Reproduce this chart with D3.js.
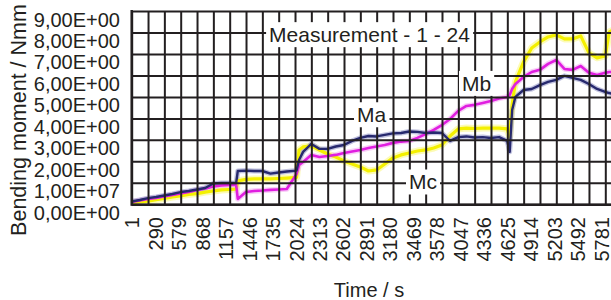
<!DOCTYPE html>
<html><head><meta charset="utf-8">
<script src="https://cdn.jsdelivr.net/npm/d3@7"></script>
<style>html,body{margin:0;padding:0;background:#fff;} svg{display:block;font-family:"Liberation Sans",Arial,Helvetica,sans-serif;}</style>
</head><body><svg id="c" width="611" height="300"></svg>
<script>
// ---- data ----
const time = [1,100,200,300,400,500,600,700,800,900,1000,1100,1200,1280,1300,1400,1500,1600,1700,1800,1900,2020,2050,2100,2200,2300,2400,2500,2600,2700,2800,2900,3000,3100,3200,3300,3400,3500,3600,3700,3800,3900,4000,4100,4200,4300,4400,4500,4600,4630,4660,4700,4800,4900,5000,5100,5200,5300,5400,5500,5600,5700,5800,5850,5900];
const ma = [0.13,0.20,0.29,0.34,0.41,0.48,0.57,0.62,0.69,0.76,0.97,0.99,0.99,0.99,1.55,1.57,1.55,1.55,1.43,1.48,1.53,1.57,2.06,2.44,2.81,2.58,2.58,2.69,2.76,2.95,3.09,3.18,3.16,3.23,3.30,3.32,3.39,3.37,3.32,3.34,3.32,2.95,3.13,3.16,3.11,3.13,3.09,3.13,2.95,2.44,4.39,5.00,5.32,5.37,5.55,5.70,5.79,5.98,5.89,5.79,5.60,5.37,5.23,5.18,5.14];
const mb = [0.11,0.18,0.25,0.29,0.36,0.43,0.50,0.57,0.67,0.74,0.83,0.88,0.90,0.90,0.25,0.57,0.62,0.64,0.67,0.69,0.71,1.41,1.83,1.97,2.30,2.20,2.25,2.30,2.39,2.46,2.53,2.62,2.69,2.76,2.86,2.92,2.95,3.09,3.27,3.46,3.69,3.97,4.35,4.58,4.63,4.72,4.81,4.93,5.00,5.09,5.37,5.60,5.93,6.16,6.26,6.54,6.72,6.30,6.26,6.44,6.12,6.02,6.12,6.16,6.16];
const mc = [0.06,0.11,0.15,0.22,0.27,0.34,0.39,0.46,0.50,0.57,0.62,0.67,0.69,0.71,1.09,1.16,1.18,1.18,1.18,1.20,1.22,1.25,2.53,2.67,2.72,2.53,2.34,2.20,2.02,1.88,1.74,1.55,1.60,1.88,2.16,2.30,2.39,2.48,2.53,2.62,2.76,3.18,3.51,3.55,3.53,3.55,3.55,3.55,3.51,3.13,4.62,5.70,6.63,7.28,7.56,7.79,7.89,7.70,7.70,7.84,7.05,6.82,6.91,8.03,8.12];
const gridTimes = [1,201,401,601,801,1001,1201,1401,1601,1801,2001,2201,2401,2601,2801,3001,3201,3401,3601,3801,4001,4201,4401,4601,4801,5001,5201,5401,5601,5801,6001];
const yTicks = [0,1,2,3,4,5,6,7,8,9];
const yTickLabels = ["0,00E+00","1,00E+07","2,00E+00","3,00E+00","4,00E+00","5,00E+00","6,00E+00","7,00E+00","8,00E+00","9,00E+00"];
const xTickValues = [1,290,579,868,1157,1446,1735,2024,2313,2602,2891,3180,3469,3758,4047,4336,4625,4914,5203,5492,5781];
const xTickLabels = ["1","290","579","868","1157","1446","1735","2024","2313","2602","2891","3180","3469","3578","4047","4336","4625","4914","5203","5492","5781"];
const seriesNames = ["Ma","Mb","Mc"];
const chartTitle = "Measurement - 1 - 24";
const xTitle = "Time / s";
const yTitle = "Bending moment / Nmm";
// annotation anchors in data units [time, value]
const annTitle = [2913, 7.55];
const annMa = [2760, 3.82];
const annMb = [4046, 5.28];
const annMc = [3397, 0.69];

// ---- chart ----
(function(){
const W = 611, H = 300;
const svg = d3.select("#c");
const x = d3.scaleLinear().domain([1, 5801]).range([131.7, 605.3]);
const xLab = d3.scaleLinear().domain([1, 5781]).range([132.3, 601.5]); // category label placement
const y = d3.scaleLinear().domain([0, 9]).range([204.3, 11]);
const pL = x(1), pR = W, pT = y(9), pB = y(0);

svg.append("defs").append("clipPath").attr("id","plot")
  .append("rect").attr("x", pL).attr("y", pT-2).attr("width", pR-pL).attr("height", pB-pT+4);

const plot = svg.append("g").attr("clip-path","url(#plot)");

const series = [
  {name:"Mc", vals: mc, core:"#f4f000", halo:"#faf77a", cw:3.2, hw:7},
  {name:"Mb", vals: mb, core:"#e01ee0", halo:"#f3a6f0", cw:2.6, hw:5.5},
  {name:"Ma", vals: ma, core:"#27296e", halo:"#8f91c4", cw:2.4, hw:5}
];
const line = d3.line().x((d,i)=>x(time[i])).y(d=>y(d));
series.forEach(s=>{
  plot.append("path").datum(s.vals).attr("d",line).attr("fill","none")
    .attr("stroke",s.halo).attr("stroke-width",s.hw).attr("stroke-opacity",0.55).attr("stroke-linejoin","round");
});
series.forEach(s=>{
  plot.append("path").datum(s.vals).attr("d",line).attr("fill","none")
    .attr("stroke",s.core).attr("stroke-width",s.cw).attr("stroke-linejoin","round");
});

// grid (drawn over the data)
const gridCol = "#231f20";
const gx = svg.append("g").attr("transform",`translate(0,${pB})`)
  .call(d3.axisBottom(x).tickValues(gridTimes).tickSize(-(pB-pT)).tickFormat(""));
gx.select(".domain").remove();
gx.selectAll("line").attr("stroke",gridCol).attr("stroke-width",2);
const gy = svg.append("g").attr("transform",`translate(${pL},0)`)
  .call(d3.axisLeft(y).tickValues(yTicks).tickSize(-(pR-pL)).tickFormat(""));
gy.select(".domain").remove();
gy.selectAll("line").attr("stroke",gridCol).attr("stroke-width",2);
// frame
svg.append("line").attr("x1",pL).attr("x2",pR).attr("y1",pB+0.5).attr("y2",pB+0.5).attr("stroke",gridCol).attr("stroke-width",2.5);
svg.append("line").attr("x1",pL).attr("x2",pL).attr("y1",pT-1).attr("y2",pB+1.5).attr("stroke",gridCol).attr("stroke-width",2.5);

// y tick labels
svg.append("g").selectAll("text").data(yTicks).join("text")
  .attr("x",120).attr("y",d=>y(d)+15.5).attr("text-anchor","end")
  .attr("font-size",20).attr("fill","#231f20")
  .text((d,i)=>yTickLabels[i]);

// x tick labels (rotated)
svg.append("g").selectAll("text").data(xTickValues).join("text")
  .attr("transform",d=>`translate(${xLab(d)+7},217) rotate(-90)`)
  .attr("text-anchor","end").attr("font-size",20).attr("fill","#231f20")
  .text((d,i)=>xTickLabels[i]);

// axis titles
svg.append("text").attr("x",369).attr("y",296.5).attr("text-anchor","middle")
  .attr("font-size",20).attr("fill","#231f20").text(xTitle);
svg.append("text").attr("transform","translate(25.5,120) rotate(-90)").attr("text-anchor","middle")
  .attr("font-size",21.5).attr("fill","#231f20").text(yTitle);

// annotations with white boxes
function ann(pos, txt, anchor){
  const g = svg.append("g");
  const t = g.append("text").attr("x",x(pos[0])).attr("y",y(pos[1]))
    .attr("text-anchor",anchor).attr("font-size",21).attr("fill","#231f20").text(txt);
  const b = t.node().getBBox();
  g.insert("rect","text").attr("x",b.x-3).attr("y",b.y-1).attr("width",b.width+6).attr("height",b.height+2).attr("fill","#fff");
}
ann(annTitle, chartTitle, "middle");
ann(annMa, seriesNames[0], "start");
ann(annMb, seriesNames[1], "start");
ann(annMc, seriesNames[2], "start");
})();
</script></body></html>
